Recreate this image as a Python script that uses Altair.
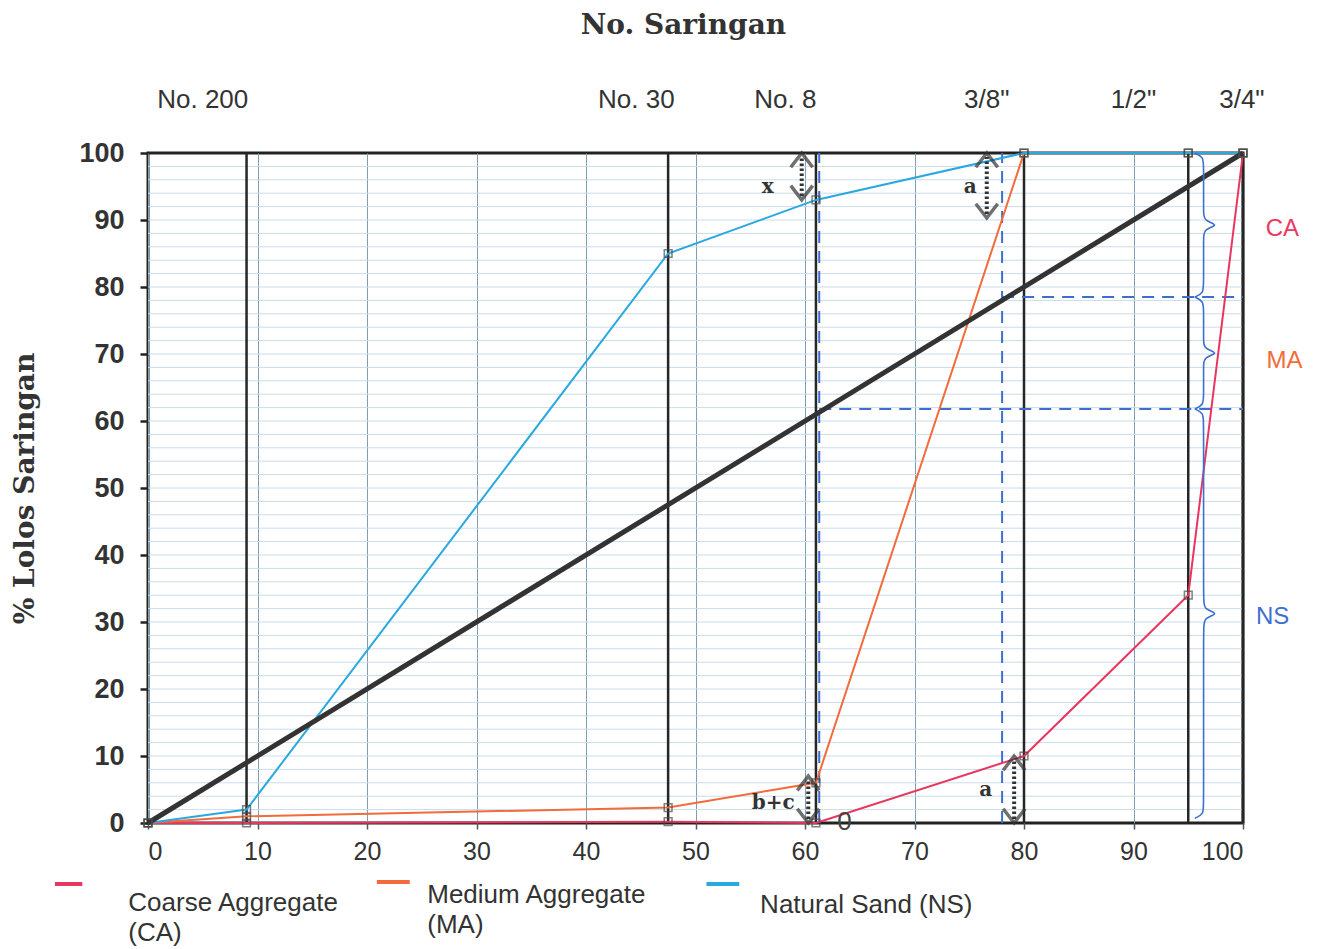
import altair as alt
import pandas as pd

# ---------------- data ----------------
sieve_x = [0, 9, 47.5, 61, 80, 95, 100]
ns_pass = [0, 2, 85, 93, 100, 100, 100]
ma_pass = [0, 1, 2.3, 6, 100, 100, 100]
ca_pass = [0, 0, 0.2, 0, 10, 34, 100]

series_names = ["Coarse Aggregate (CA)", "Medium Aggregate (MA)", "Natural Sand (NS)"]
series_colors = ["#e8365f", "#f26b3b", "#2aa8e0"]

x_ticks = [0, 10, 20, 30, 40, 50, 60, 70, 80, 90, 100]
y_ticks = [0, 10, 20, 30, 40, 50, 60, 70, 80, 90, 100]
fine_grid_y = [2, 4, 6, 8, 10, 12, 14, 16, 18, 20, 22, 24, 26, 28, 30, 32, 34, 36, 38,
               40, 42, 44, 46, 48, 50, 52, 54, 56, 58, 60, 62, 64, 66, 68, 70, 72, 74,
               76, 78, 80, 82, 84, 86, 88, 90, 92, 94, 96, 98]

sieve_lines = [9, 47.5, 61, 80, 95, 100]
sieve_names = ["No. 200", "No. 30", "No. 8", '3/8"', '1/2"', '3/4"']
sieve_label_x = [5.0, 44.6, 58.2, 76.6, 90.0, 99.9]
sieve_label_y = [107.9, 107.9, 107.9, 107.9, 107.9, 107.9]

ideal_x = [0, 100]
ideal_y = [0, 100]

dashed_v_x = [61.3, 78.0]
dashed_h_y = [61.8, 78.5]

brace_names = ["CA", "MA", "NS"]
brace_hi = [100, 78.5, 61.8]
brace_lo = [78.5, 61.8, 0.7]
brace_label_x = [103.6, 103.8, 102.7]
brace_label_y = [88.7, 69.0, 30.7]
brace_label_colors = ["#ea3b5f", "#f26b3b", "#3d6fcf"]

arrow_x = [59.7, 76.6, 60.3, 79.1]
arrow_lo = [93, 90.3, 0, 0]
arrow_hi = [100, 100, 7, 10]
arrow_text = ["x", "a", "b+c", "a"]
arrow_text_x = [56.6, 75.1, 57.1, 76.5]
arrow_text_y = [95, 95, 3, 5]

legend_line_x1 = [-8.5, 20.9, 51.0]
legend_line_x2 = [-6.0, 23.9, 54.0]
legend_line_y = [-9.1, -8.8, -9.1]
legend_text = ["Coarse Aggregate", "(CA)", "Medium Aggregate", "(MA)", "Natural Sand (NS)"]
legend_text_x = [-1.8, -1.8, 25.5, 25.5, 55.9]
legend_text_y = [-11.9, -16.4, -10.7, -15.2, -12.2]

title_text = ["No. Saringan"]
title_x = [48.9]
title_y = [118.9]

zero_text = ["0"]
zero_x = [63.6]
zero_y = [0.1]

# ---------------- tables ----------------
rows = []
for name, vals in zip(series_names, [ca_pass, ma_pass, ns_pass]):
    for i, (xv, yv) in enumerate(zip(sieve_x, vals)):
        rows.append({"series": name, "x": xv, "y": yv, "i": i})
series_df = pd.DataFrame(rows)

ideal_df = pd.DataFrame({"x": ideal_x, "y": ideal_y})
grid_df = pd.DataFrame({"y": fine_grid_y})
sieve_df = pd.DataFrame({"x": sieve_lines, "y": 0, "y2": 100})
sieve_lab_df = pd.DataFrame({"x": sieve_label_x, "y": sieve_label_y, "t": sieve_names})
dv_df = pd.DataFrame({"x": dashed_v_x, "y": 0, "y2": 100})
dh_df = pd.DataFrame({"x": dashed_v_x, "x2": 100, "y": dashed_h_y})

brace_rows = []
for b, hi, lo in zip(brace_names, brace_hi, brace_lo):
    mid = (hi + lo) / 2.0
    pts = [(95.6, hi), (96.4, hi - 0.6), (96.4, hi - 2.0), (96.4, mid + 2.0),
           (96.4, mid + 0.6), (97.9, mid), (96.4, mid - 0.6), (96.4, mid - 2.0),
           (96.4, lo + 2.0), (96.4, lo + 0.6), (95.6, lo)]
    for k, (px, py) in enumerate(pts):
        brace_rows.append({"b": b, "x": px, "y": py, "k": k})
brace_df = pd.DataFrame(brace_rows)
brace_lab_df = pd.DataFrame({"x": brace_label_x, "y": brace_label_y,
                             "t": brace_names, "c": brace_label_colors})

arrow_df = pd.DataFrame({"x": arrow_x, "lo": arrow_lo, "hi": arrow_hi})
arrow_df["lo_in"] = arrow_df["lo"] + 0.6
arrow_df["hi_in"] = arrow_df["hi"] - 0.6
arrow_txt_df = pd.DataFrame({"x": arrow_text_x, "y": arrow_text_y, "t": arrow_text})

leg_line_df = pd.DataFrame({"x": legend_line_x1, "x2": legend_line_x2,
                            "y": legend_line_y, "c": series_colors})
leg_txt_df = pd.DataFrame({"x": legend_text_x, "y": legend_text_y, "t": legend_text})
title_df = pd.DataFrame({"x": title_x, "y": title_y, "t": title_text})
zero_df = pd.DataFrame({"x": zero_x, "y": zero_y, "t": zero_text})

# ---------------- scales & axes ----------------
SANS = "Liberation Sans"
SERIF = "DejaVu Serif"

xs = alt.Scale(domain=[0, 100], nice=False, zero=False)
ys = alt.Scale(domain=[0, 100], nice=False, zero=False)

x_axis = alt.Axis(
    values=x_ticks, grid=True, gridColor="#7f9db5", gridWidth=1,
    domain=False, tickColor="#555", tickSize=6, tickWidth=1.5,
    labelFont=SANS, labelFontSize=25, labelColor="#333", labelPadding=10,
    title=None)
y_axis = alt.Axis(
    values=y_ticks, grid=False, domain=False, tickColor="#222",
    tickSize=8, tickWidth=2.5, labelFont=SANS, labelFontSize=27,
    labelFontWeight="bold", labelColor="#333", labelPadding=16,
    title="% Lolos Saringan", titleFont=SERIF, titleFontSize=28,
    titleFontWeight="bold", titleColor="#333", titlePadding=39)


def X(f="x"):
    return alt.X(f, type="quantitative", scale=xs, axis=x_axis)


def Y(f="y"):
    return alt.Y(f, type="quantitative", scale=ys, axis=y_axis)


hgrid = alt.Chart(grid_df).mark_rule(color="#c9dcec", strokeWidth=1).encode(y=Y())

sieve_rules = alt.Chart(sieve_df).mark_rule(color="#262626", strokeWidth=2.5).encode(
    x=X(), y=Y(), y2="y2")

dash_v = alt.Chart(dv_df).mark_rule(color="#3d6fcf", strokeWidth=2,
                                     strokeDash=[12, 8]).encode(x=X(), y=Y(), y2="y2")
dash_h = alt.Chart(dh_df).mark_rule(color="#3d6fcf", strokeWidth=2,
                                     strokeDash=[12, 8]).encode(x=X(), x2="x2", y=Y())

lines = alt.Chart(series_df).mark_line(strokeWidth=2).encode(
    x=X(), y=Y(),
    color=alt.Color("series:N", scale=alt.Scale(domain=series_names, range=series_colors),
                    legend=None),
    order="i:Q",
)

ideal = alt.Chart(ideal_df).mark_line(color="#333333", strokeWidth=5).encode(x=X(), y=Y())

markers = alt.Chart(series_df).mark_point(shape="square", filled=False, size=60,
                                          color="#4a4a4a", strokeWidth=1.5).encode(
    x=X(), y=Y())

braces = alt.Chart(brace_df).mark_line(color="#3d6fcf", strokeWidth=1.6,
                                       interpolate="basis").encode(
    x=X(), y=Y(), detail="b:N", order="k:Q")

brace_labels = alt.Chart(brace_lab_df).mark_text(font=SANS, fontSize=24, align="center",
                                                 baseline="middle").encode(
    x=X(), y=Y(), text="t:N", color=alt.Color("c:N", scale=None))

arrow_dots = alt.Chart(arrow_df).mark_rule(color="#333", strokeWidth=4,
                                           strokeDash=[2.5, 2.5]).encode(
    x=X(), y=Y("lo_in"), y2="hi_in")
arrow_up = alt.Chart(arrow_df).mark_point(shape="M-1,1.3L0,0L1,1.3", filled=False,
                                          size=480, color="#333", strokeWidth=3.5).encode(
    x=X(), y=Y("hi"))
arrow_down = alt.Chart(arrow_df).mark_point(shape="M-1,-1.3L0,0L1,-1.3", filled=False,
                                            size=480, color="#333", strokeWidth=3.5).encode(
    x=X(), y=Y("lo"))
arrow_labels = alt.Chart(arrow_txt_df).mark_text(font=SERIF, fontSize=20, fontWeight="bold",
                                                 color="#333", align="center",
                                                 baseline="middle").encode(
    x=X(), y=Y(), text="t:N")

sieve_labels = alt.Chart(sieve_lab_df).mark_text(font=SANS, fontSize=26, color="#333",
                                                 align="center", baseline="middle").encode(
    x=X(), y=Y(), text="t:N")

title = alt.Chart(title_df).mark_text(font=SERIF, fontSize=28, fontWeight="bold",
                                      color="#333", align="center",
                                      baseline="middle").encode(x=X(), y=Y(), text="t:N")

zero_lab = alt.Chart(zero_df).mark_text(font=SANS, fontSize=26, color="#444",
                                        align="center", baseline="middle").encode(
    x=X(), y=Y(), text="t:N")

leg_lines = alt.Chart(leg_line_df).mark_rule(strokeWidth=4).encode(
    x=X(), x2="x2", y=Y(), color=alt.Color("c:N", scale=None))
leg_text = alt.Chart(leg_txt_df).mark_text(font=SANS, fontSize=26, color="#333",
                                           align="left", baseline="middle").encode(
    x=X(), y=Y(), text="t:N")

chart = alt.layer(
    hgrid, sieve_rules, dash_v, dash_h, lines, ideal, markers, braces,
    brace_labels, arrow_dots, arrow_up, arrow_down, arrow_labels, sieve_labels,
    title, zero_lab, leg_lines, leg_text,
).properties(
    width=1095, height=670,
    padding={"left": 140, "top": 145, "right": 67, "bottom": 125},
    autosize=alt.AutoSizeParams(type="none"),
).configure_view(stroke="#222", strokeWidth=3)

chart.save("out.html", embed_options={"renderer": "svg", "actions": False})
